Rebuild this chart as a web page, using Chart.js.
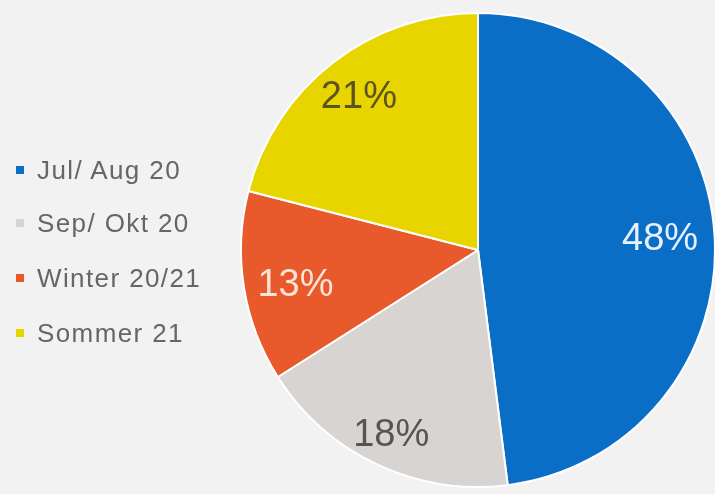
<!DOCTYPE html>
<html>
<head>
<meta charset="utf-8">
<script src="https://cdn.jsdelivr.net/npm/chart.js@4/dist/chart.umd.min.js"></script>
<style>
    html, body {
        margin: 0;
        padding: 0;
        background: #f2f2f2;
    }
    #wrap {
        position: relative;
        width: 715px;
        height: 494px;
        overflow: hidden;
    }
    #shareChart {
        position: absolute;
        left: 0;
        top: 0;
    }
    #legend {
        position: absolute;
        left: 16px;
        top: 0;
        font-family: "Liberation Sans", Arial, sans-serif;
        font-size: 26px;
        letter-spacing: 1.4px;
        color: #666666;
    }
    .legend-item {
        position: absolute;
        white-space: nowrap;
        display: flex;
        align-items: center;
        height: 30px;
    }
    .legend-box {
        width: 8px;
        height: 8px;
        margin-right: 13px;
    }
</style>
</head>
<body>
<div id="wrap">
    <canvas id="shareChart" width="715" height="494"></canvas>
    <div id="legend"></div>
</div>
<script>
const periods = ["Jul/ Aug 20", "Sep/ Okt 20", "Winter 20/21", "Sommer 21"];
const shares = [48, 18, 13, 21];
const sliceColors = ["#0a6ec6", "#d8d4d1", "#e85a2c", "#e8d500"];
const labelColors = ["#e6f0fb", "#555555", "#fbe3d8", "#5c5320"];

const shareChartCanvas = document.querySelector("#shareChart");
const legendEl = document.querySelector("#legend");

/* Legend */

const legendRows = [155, 208, 263, 318];

periods.forEach((period, i) => {
    const item = document.createElement("div");
    item.className = "legend-item";
    item.style.top = legendRows[i] + "px";
    item.innerHTML = `
        <span class="legend-box" style="background:${sliceColors[i]}"></span>
        <span>${period}</span>
    `;
    legendEl.appendChild(item);
});

/* Percent labels */

const labelRadius = [0.77, 0.86, 0.78, 0.82];
const labelNudge = [0, 0, 6, 0];

const percentLabels = {
    id: "percentLabels",
    afterDatasetsDraw(chart) {
        const ctx = chart.ctx;
        const meta = chart.getDatasetMeta(0);
        ctx.save();
        ctx.font = "38px 'Liberation Sans', Arial, sans-serif";
        ctx.textAlign = "center";
        ctx.textBaseline = "middle";
        meta.data.forEach((arc, i) => {
            const p = arc.getProps(["x", "y", "startAngle", "endAngle", "outerRadius"], true);
            const mid = (p.startAngle + p.endAngle) / 2;
            const r = p.outerRadius * labelRadius[i];
            ctx.fillStyle = labelColors[i];
            ctx.fillText(shares[i] + "%", p.x + Math.cos(mid) * r, p.y + Math.sin(mid) * r + 1 + labelNudge[i]);
        });
        ctx.restore();
    }
};

new Chart(shareChartCanvas, {
    type: "pie",
    data: {
        labels: periods,
        datasets: [
            {
                data: shares,
                backgroundColor: sliceColors,
                borderColor: "#ffffff",
                borderWidth: 2,
                hoverOffset: 0,
                radius: 237
            }
        ]
    },
    options: {
        responsive: false,
        animation: false,
        layout: {
            padding: { left: 241, top: 13, right: 0, bottom: 7 }
        },
        plugins: {
            legend: { display: false },
            tooltip: { enabled: false }
        }
    },
    plugins: [percentLabels]
});
</script>
</body>
</html>
